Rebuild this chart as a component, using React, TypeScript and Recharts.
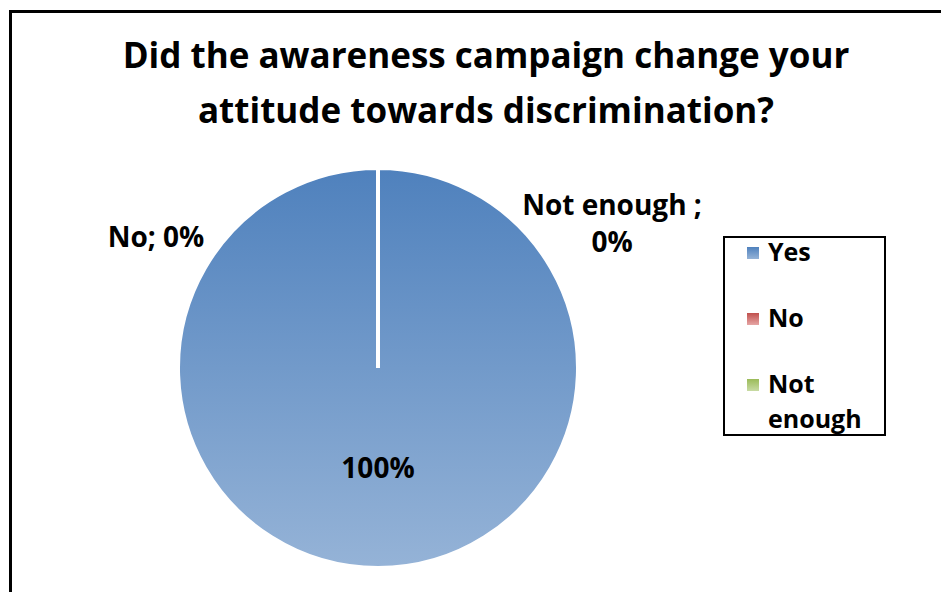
import React from 'react';
import { PieChart, Pie, Cell, Legend } from 'recharts';

const categories = ['Yes', 'No', 'Not enough'];
const values = [100, 0, 0];
const labelNames = ['', 'No', 'Not enough '];

// gradient stops (top, bottom) per slice
const topColors = ['#4F81BD', '#C0504D', '#9BBB59'];
const bottomColors = ['#95B3D7', '#E6A6A5', '#C8DBA4'];

const data = categories.map((name, i) => ({ name, value: values[i] }));

const FONT = '"Open Sans", "Liberation Sans", sans-serif';

const renderLabel = (props: any) => {
    const { cx, cy, outerRadius, index, percent } = props;
    const pct = `${Math.round(percent * 100)}%`;
    const common = { fontFamily: FONT, fontWeight: 700, fontSize: 28, fill: '#000', textAnchor: 'middle' as const };
    if (index === 0) {
        return <text {...common} x={cx} y={cy + outerRadius * 0.55}>{pct}</text>;
    }
    if (index === 1) {
        return <text {...common} x={cx - outerRadius * 1.11} y={cy - outerRadius * 0.605}>{`${labelNames[1]}; ${pct}`}</text>;
    }
    return (
        <text {...common} x={cx + outerRadius * 1.17}>
            <tspan x={cx + outerRadius * 1.17} y={cy - outerRadius * 0.765}>{`${labelNames[2]};`}</tspan>
            <tspan x={cx + outerRadius * 1.17} y={cy - outerRadius * 0.58}>{pct}</tspan>
        </text>
    );
};

const LegendBox = (props: any) => {
    const payload = [...(props.payload || [])].sort(
        (a: any, b: any) => categories.indexOf(a.value) - categories.indexOf(b.value)
    );
    return (
        <div style={{ position: 'relative', width: 159, height: 196, border: '2px solid #000', background: '#fff' }}>
            {payload.map((entry: any) => {
                const i = categories.indexOf(entry.value);
                return (
                    <div key={entry.value} style={{ position: 'absolute', left: 0, top: -4 + i * 66, width: 159 }}>
                        <div
                            style={{
                                position: 'absolute', left: 22, top: 13, width: 12, height: 12,
                                background: `linear-gradient(${topColors[i]}, ${bottomColors[i]})`,
                            }}
                        />
                        <div style={{ position: 'absolute', left: 43, top: 0, width: 110, fontFamily: FONT, fontWeight: 700, fontSize: 25, lineHeight: '35px', color: '#000' }}>
                            {entry.value}
                        </div>
                    </div>
                );
            })}
        </div>
    );
};

export default function App() {
    return (
        <div style={{ position: 'relative', width: 941, height: 584, overflow: 'hidden' }}>
            <div style={{ position: 'absolute', left: 1, top: 2, width: 1100, height: 800, border: '3px solid #000' }} />
            <div
                style={{
                    position: 'absolute', left: 0, top: 19, width: 956, textAlign: 'center',
                    fontFamily: FONT, fontWeight: 700, fontSize: 35, lineHeight: '55px', color: '#000',
                }}
            >
                Did the awareness campaign change your<br />attitude towards discrimination?
            </div>
            <div style={{ position: 'absolute', left: 0, top: 0 }}>
                <PieChart width={941} height={584} margin={{ top: 0, right: 0, bottom: 0, left: 0 }}>
                    <defs>
                        {categories.map((c, i) => (
                            <linearGradient key={c} id={`grad${i}`} x1="0" y1="0" x2="0" y2="1">
                                <stop offset="0%" stopColor={topColors[i]} />
                                <stop offset="100%" stopColor={bottomColors[i]} />
                            </linearGradient>
                        ))}
                    </defs>
                    <Pie
                        data={data}
                        dataKey="value"
                        nameKey="name"
                        cx={370}
                        cy={360}
                        outerRadius={200}
                        startAngle={90}
                        endAngle={-270}
                        stroke="#fff"
                        strokeWidth={4}
                        label={renderLabel}
                        labelLine={false}
                        isAnimationActive={false}
                    >
                        {data.map((d, i) => (
                            <Cell key={d.name} fill={`url(#grad${i})`} />
                        ))}
                    </Pie>
                    <Legend
                        layout="vertical"
                        content={<LegendBox />}
                        wrapperStyle={{ position: 'absolute', left: 715, top: 228, width: 163, height: 200 }}
                    />
                </PieChart>
            </div>
        </div>
    );
}
